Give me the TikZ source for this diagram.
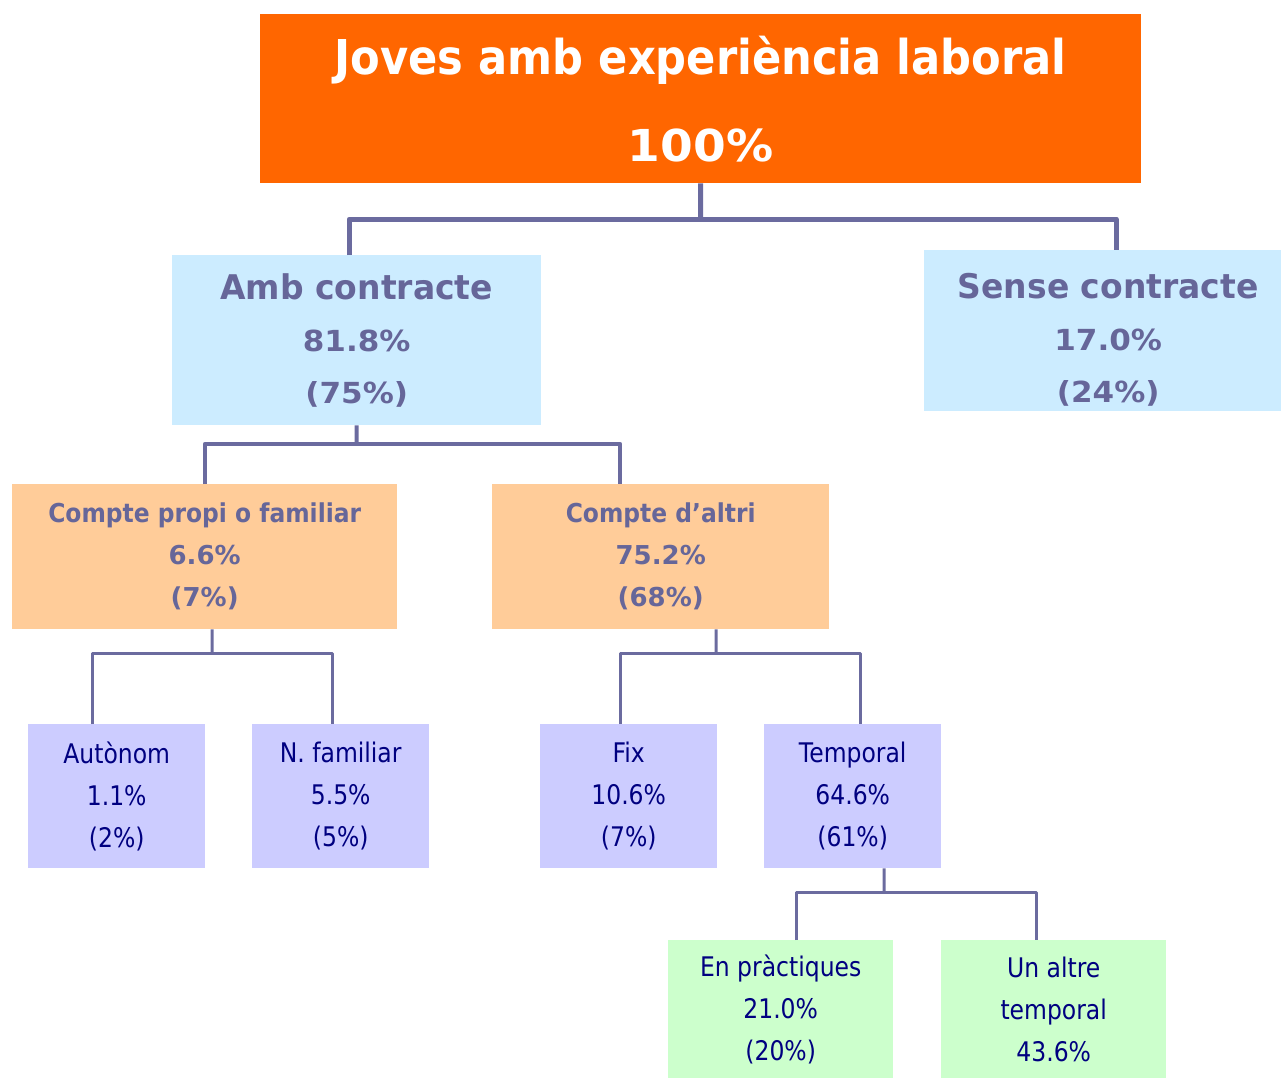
\documentclass[tikz,border=0pt]{standalone}
\usepackage{fontspec}
\setmainfont{DejaVu Sans}
\newfontfamily\fA{DejaVu Sans}[FakeStretch=0.87]
\newfontfamily\fB{DejaVu Sans}[FakeStretch=0.90]
\newfontfamily\fC{DejaVu Sans}[FakeStretch=0.97]
\newfontfamily\fD{DejaVu Sans}[FakeStretch=1.00]
\newfontfamily\fE{DejaVu Sans}[FakeStretch=1.07]
\usetikzlibrary{calc}
\definecolor{orangeT}{HTML}{FF6600}
\definecolor{blueL}{HTML}{CCECFF}
\definecolor{peach}{HTML}{FFCC99}
\definecolor{lav}{HTML}{CCCCFF}
\definecolor{greenL}{HTML}{CCFFCC}
\definecolor{txtA}{HTML}{666699}
\definecolor{txtB}{HTML}{000080}
\definecolor{lineC}{HTML}{6B6B9F}
\tikzset{
  box/.style={rectangle, inner sep=0pt, align=center, anchor=north west},
  topbox/.style={box, fill=orangeT, text=white, font=\bfseries\fontsize{48}{87}\selectfont},
  lvltwo/.style={box, fill=blueL, text=txtA, font=\bfseries\fontsize{29}{52}\selectfont},
  lvlthree/.style={box, fill=peach, text=txtA, font=\bfseries\fontsize{26}{42}\selectfont},
  leaf/.style={box, fill=lav, text=txtB, font=\fA\fontsize{27}{42}\selectfont},
  leafg/.style={box, fill=greenL, text=txtB, font=\fA\fontsize{27}{42}\selectfont},
  conA/.style={draw=lineC, line width=5pt, line join=round},
  conB/.style={draw=lineC, line width=4pt, line join=round},
  conC/.style={draw=lineC, line width=3pt, line join=round},
}
\begin{document}
\begin{tikzpicture}[x=1pt,y=-1pt]
\useasboundingbox (0,0) rectangle (1281,1079);
% boxes
\node[topbox, minimum width=881pt, minimum height=169pt] (top) at (260,14)
  {{\fB Joves amb experiència laboral}\\{\fE\fontsize{44}{87}\selectfont 100\%}};
\node[lvltwo, minimum width=369pt, minimum height=170pt] (amb) at (172,255)
  {{\fC\fontsize{34}{52}\selectfont Amb contracte}\\{\fE 81.8\%}\\{\fE (75\%)}};
\node[lvltwo, minimum width=357pt, minimum height=161pt] (sense) at (924,250)
  {{\fC\fontsize{34}{52}\selectfont\rule{0pt}{43pt}\hspace*{11pt}Sense contracte}\\{\fE\hspace*{11pt}17.0\%}\\{\fE\hspace*{11pt}(24\%)}};
\node[lvlthree, minimum width=385pt, minimum height=145pt] (cp) at (12,484)
  {{\fB Compte propi o familiar}\\{\fD 6.6\%}\\{\fD (7\%)}};
\node[lvlthree, minimum width=337pt, minimum height=145pt] (ca) at (492,484)
  {{\fB Compte d’altri}\\{\fD 75.2\%}\\{\fD (68\%)}};
\node[leaf, minimum width=177pt, minimum height=144pt] (aut) at (28,724)
  {Autònom\\1.1\%\\(2\%)};
\node[leaf, minimum width=177pt, minimum height=144pt] (nfam) at (252,724)
  {N. familiar\\5.5\%\\(5\%)};
\node[leaf, minimum width=177pt, minimum height=144pt] (fix) at (540,724)
  {Fix\\10.6\%\\(7\%)};
\node[leaf, minimum width=177pt, minimum height=144pt] (temp) at (764,724)
  {Temporal\\64.6\%\\(61\%)};
\node[leafg, minimum width=225pt, minimum height=138pt] (prac) at (668,940)
  {En pràctiques\\21.0\%\\(20\%)};
\node[leafg, minimum width=225pt, minimum height=138pt] (altre) at (941,940)
  {Un altre\\temporal\\43.6\%};
% junctions
\coordinate (j1) at (700.5,219);
\coordinate (j2) at (356.5,444);
\coordinate (j3) at (212,653);
\coordinate (j4) at (716,653);
\coordinate (j5) at (884,892);
% connectors
\draw[conA] (top.south) -- (j1);
\draw[conA] ([xshift=-7.5pt]amb.north) |- (j1) -| ([xshift=13.5pt]sense.north);
\draw[conB] (amb.south) -- (j2);
\draw[conB] (cp.north) |- (j2) -| ([xshift=-40.5pt]ca.north);
\draw[conC] ([xshift=7.5pt]cp.south) -- (j3);
\draw[conC] ([xshift=-24.5pt]aut.north) |- (j3) -| ([xshift=-8.5pt]nfam.north);
\draw[conC] ([xshift=55.5pt]ca.south) -- (j4);
\draw[conC] ([xshift=-8.5pt]fix.north) |- (j4) -| ([xshift=7.5pt]temp.north);
\draw[conC] ([xshift=31.5pt]temp.south) -- (j5);
\draw[conC] ([xshift=15.5pt]prac.north) |- (j5) -| ([xshift=-17.5pt]altre.north);
\end{tikzpicture}
\end{document}
